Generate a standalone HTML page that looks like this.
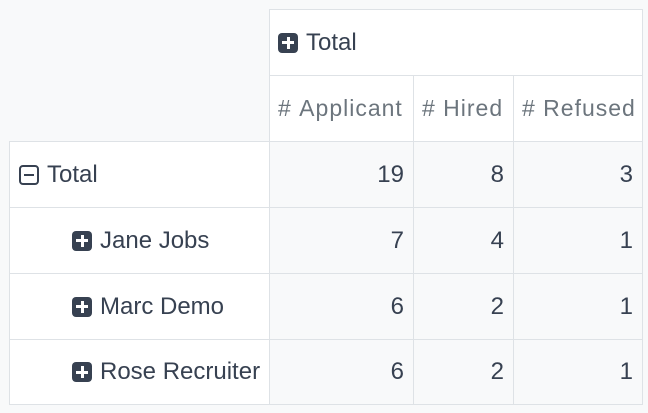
<!DOCTYPE html><html><head><style>
body{margin:0;width:648px;height:413px;background:#f8f9fa;font-family:"Liberation Sans",sans-serif;color:#374151;position:relative;overflow:hidden}
.c{position:absolute;box-sizing:border-box;border:1px solid #dee2e6;display:flex;align-items:center;font-size:24px;white-space:nowrap}
.w{background:#fff}.g{background:#f8f9fa}
.r{justify-content:flex-end;padding-right:9px}
.m{color:#6c757d;padding-left:8px;letter-spacing:1px}
.ic{display:inline-block;width:20px;height:20px;border-radius:4px;background:#374151;position:relative;margin-right:8px}
.ic:before{content:"";position:absolute;left:4px;top:8.5px;width:12px;height:3px;background:#fff}
.ic:after{content:"";position:absolute;left:8.5px;top:4px;width:3px;height:12px;background:#fff}
.mi{display:inline-block;width:16px;height:16px;border:2px solid #374151;border-radius:4px;position:relative;margin-right:8px}
.mi:before{content:"";position:absolute;left:3px;top:7px;width:10px;height:2px;background:#374151}
</style></head><body>
<div class="c w" style="left:269px;top:9px;width:374px;height:67px;padding-left:8px"><span class="ic"></span>Total</div>
<div class="c w m" style="left:269px;top:75px;width:145px;height:67px;font-size:23px">#&nbsp;Applicant</div>
<div class="c w m" style="left:413px;top:75px;width:101px;height:67px;font-size:23px">#&nbsp;Hired</div>
<div class="c w m" style="left:513px;top:75px;width:130px;height:67px;font-size:23px">#&nbsp;Refused</div>

<div class="c w" style="left:9px;top:141px;width:261px;height:67px;padding-left:9px"><span class="mi"></span>Total</div>
<div class="c g r" style="left:269px;top:141px;width:145px;height:67px">19</div>
<div class="c g r" style="left:413px;top:141px;width:101px;height:67px">8</div>
<div class="c g r" style="left:513px;top:141px;width:130px;height:67px">3</div>

<div class="c w" style="left:9px;top:207px;width:261px;height:67px;padding-left:62px"><span class="ic"></span>Jane Jobs</div>
<div class="c g r" style="left:269px;top:207px;width:145px;height:67px">7</div>
<div class="c g r" style="left:413px;top:207px;width:101px;height:67px">4</div>
<div class="c g r" style="left:513px;top:207px;width:130px;height:67px">1</div>

<div class="c w" style="left:9px;top:273px;width:261px;height:67px;padding-left:62px"><span class="ic"></span>Marc Demo</div>
<div class="c g r" style="left:269px;top:273px;width:145px;height:67px">6</div>
<div class="c g r" style="left:413px;top:273px;width:101px;height:67px">2</div>
<div class="c g r" style="left:513px;top:273px;width:130px;height:67px">1</div>

<div class="c w" style="left:9px;top:339px;width:261px;height:66px;padding-left:62px"><span class="ic"></span>Rose Recruiter</div>
<div class="c g r" style="left:269px;top:339px;width:145px;height:66px">6</div>
<div class="c g r" style="left:413px;top:339px;width:101px;height:66px">2</div>
<div class="c g r" style="left:513px;top:339px;width:130px;height:66px">1</div>
</body></html>
